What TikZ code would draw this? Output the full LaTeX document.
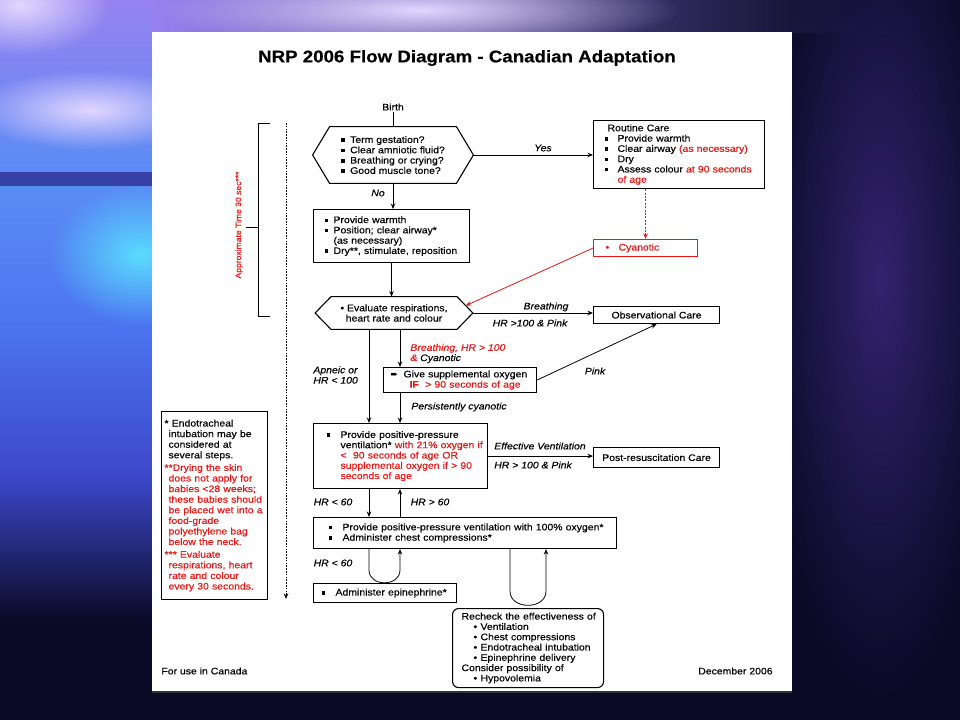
\documentclass[tikz,border=0pt]{standalone}
\usepackage{fontspec}
\setmainfont{Liberation Sans}
\newfontfamily\nrpfont[FakeStretch=1.1,FakeBold=0.3]{Liberation Sans}
\newfontfamily\symfont{DejaVu Sans}
\usetikzlibrary{arrows.meta,calc,fadings}
\tikzfading[name=softglow, inner color=transparent!0, outer color=transparent!100]
\definecolor{nrpred}{RGB}{232,24,24}
\definecolor{slidebg}{RGB}{10,10,38}
\definecolor{skylav}{RGB}{150,130,240}
\definecolor{skyblue}{RGB}{90,140,245}
\definecolor{midblue}{RGB}{75,115,240}
\definecolor{deepblue}{RGB}{60,70,200}
\definecolor{glowcyan}{RGB}{90,220,255}
\definecolor{glowlav}{RGB}{225,215,255}
\definecolor{glowpurple}{RGB}{150,130,240}
\definecolor{glowviolet}{RGB}{50,35,110}
\definecolor{bandblue}{RGB}{55,65,165}
\newcommand\rd[1]{\textcolor{nrpred}{#1}}
\newcommand\sqdot{\rule[1pt]{3.5pt}{3.5pt}}
\newcommand\sqb{\makebox[9pt][l]{\sqdot}}
\newcommand\sqbw{\makebox[13pt][l]{\sqdot}}
\newcommand\rbul{\hspace*{12pt}\makebox[7pt][l]{•}}
\newcommand\hexframe[2]{\draw[line width=1.1pt] ([xshift=#2]#1.north west) -- ([xshift=-#2]#1.north east) -- (#1.east) -- ([xshift=-#2]#1.south east) -- ([xshift=#2]#1.south west) -- (#1.west) -- cycle;}

\begin{document}
\begin{tikzpicture}[x=1pt, y=-1pt, line width=0.8pt, >={Stealth[length=5.5pt,width=4.5pt]},
  every node/.style={font=\nrpfont\fontsize{9.5}{10.3}\selectfont},
  box/.style={draw, line width=1.1pt, anchor=north west, inner ysep=0pt, align=left},
  redbox/.style={box, draw=nrpred, text=nrpred},
  hex/.style={inner sep=0pt, align=left},
  lbl/.style={inner sep=1pt},
  note/.style={lbl, font=\nrpfont\itshape\fontsize{9.5}{10.3}\selectfont}]
\useasboundingbox (0,0) rectangle (960,720);

% slide background
\fill[slidebg] (0,0) rectangle (960,720);
\shade[left color=glowpurple, right color=slidebg] (152,0) rectangle (860,32);
\shade[top color=skylav, bottom color=skyblue] (0,0) rectangle (152,172);
\shade[top color=skyblue, bottom color=midblue] (0,186) rectangle (152,330);
\shade[top color=midblue, bottom color=deepblue] (0,330) rectangle (152,480);
\shade[top color=deepblue, bottom color=slidebg] (0,480) rectangle (152,620);
\fill[glowlav, path fading=softglow] (20,5) ellipse (90 and 50);
\fill[glowlav, path fading=softglow] (420,10) ellipse (260 and 40);
\fill[glowcyan, path fading=softglow] (140,255) ellipse (90 and 70);
\fill[glowlav, path fading=softglow] (90,110) ellipse (120 and 40);
\fill[glowviolet, path fading=softglow] (880,280) ellipse (120 and 420);
\fill[bandblue] (0,172) rectangle (152,186);

% page
\fill[white] (152,32) rectangle (792,692);
\draw[line width=1.5pt, black!80] (152,692) -- (792,692);

\node[font=\nrpfont\bfseries\fontsize{17}{20}\selectfont] (title) at (467,58) {NRP 2006 Flow Diagram - Canadian Adaptation};
\node[lbl] (birth) at (393,107) {Birth};

\node[hex, minimum width=160pt, minimum height=56pt] (hex1) at (393,155) {\sqb Term gestation?\\ \sqb Clear amniotic fluid?\\ \sqb Breathing or crying?\\ \sqb Good muscle tone?};
\hexframe{hex1}{17}

\node[box, minimum width=171pt, minimum height=68pt, inner xsep=11pt, text width=149pt] (routine) at (593,120) {\hspace*{3pt}Routine Care\\ \sqbw Provide warmth\\ \sqbw Clear airway \rd{(as necessary)}\\ \sqbw Dry\\ \sqbw \mbox{Assess colour \rd{at 90 seconds}}\\ \hspace*{13pt}\rd{of age}};
\node[redbox, minimum width=104pt, minimum height=17pt, inner xsep=12pt, text width=80pt] (cyan) at (593,239) {\makebox[13pt][l]{•}Cyanotic};

\node[box, minimum width=156pt, minimum height=53pt, inner xsep=11pt, text width=134pt] (warm) at (313,209) {\sqb Provide warmth\\ \sqb Position; clear airway*\\ \hspace*{9pt}(as necessary)\\ \sqb \mbox{Dry**, stimulate, reposition}};

\node[hex, align=center, minimum width=157pt, minimum height=32pt] (hex2) at (394,313) {• Evaluate respirations,\\heart rate and colour};
\hexframe{hex2}{16}
\coordinate (hex2ne) at ($([xshift=-16]hex2.north east)!0.55!(hex2.east)$);

\node[box, minimum width=126pt, minimum height=17pt, align=center] (obs) at (593,306) {Observational Care};
\node[box, minimum width=153pt, minimum height=25pt, inner xsep=7pt, text width=139pt] (oxy) at (383,367) {\makebox[13pt][l]{\symfont\fontsize{9}{9}\selectfont ➨}Give supplemental oxygen\\ \hspace*{19pt}\rd{\textbf{IF} \ > 90 seconds of age}};

\node[box, minimum width=174pt, minimum height=65pt, inner xsep=13pt, text width=148pt] (ppv) at (313,423) {\makebox[14pt][l]{\sqdot}Provide positive-pressure\\ \hspace*{14pt}\mbox{ventilation* \rd{with 21\% oxygen if}}\\ \hspace*{14pt}\rd{<\ \ 90 seconds of age OR}\\ \hspace*{14pt}\rd{supplemental oxygen if > 90}\\ \hspace*{14pt}\rd{seconds of age}};
\node[box, minimum width=126pt, minimum height=20pt, align=center] (post) at (593,447) {Post-resuscitation Care};

\node[box, minimum width=303pt, minimum height=31pt, inner xsep=15pt, text width=273pt] (cc) at (313,517) {\makebox[14pt][l]{\sqdot}\mbox{Provide positive-pressure ventilation with 100\% oxygen*}\\ \makebox[14pt][l]{\sqdot}Administer chest compressions*};
\node[box, minimum width=143pt, minimum height=19pt, inner xsep=8pt, text width=127pt] (epi) at (313,583) {\makebox[14pt][l]{\sqdot}Administer epinephrine*};
\node[box, rounded corners=6pt, minimum width=151pt, minimum height=79pt, inner xsep=9pt, text width=133pt] (recheck) at (452,608) {\mbox{Recheck the effectiveness of}\\ \rbul Ventilation\\ \rbul Chest compressions\\ \rbul Endotracheal intubation\\ \rbul Epinephrine delivery\\ Consider possibility of\\ \rbul Hypovolemia};

\node[box, minimum width=106pt, minimum height=188pt, inner xsep=3pt, text width=100pt, font=\nrpfont\fontsize{9.5}{10.6}\selectfont] (notes) at (161,411) {* Endotracheal\\ \hspace*{4pt}intubation may be\\ \hspace*{4pt}considered at\\ \hspace*{4pt}several steps.\\[2pt] \rd{**Drying the skin}\\ \hspace*{4pt}\rd{does not apply for}\\ \hspace*{4pt}\rd{babies <28 weeks;}\\ \hspace*{4pt}\rd{these babies should}\\ \hspace*{4pt}\rd{be placed wet into a}\\ \hspace*{4pt}\rd{food-grade}\\ \hspace*{4pt}\rd{polyethylene bag}\\ \hspace*{4pt}\rd{below the neck.}\\[2pt] \rd{*** Evaluate}\\ \hspace*{4pt}\rd{respirations, heart}\\ \hspace*{4pt}\rd{rate and colour}\\ \hspace*{4pt}\rd{every 30 seconds.}};

\node[note] (nolbl) at (378,193) {No};
\node[note] (yeslbl) at (543,148) {Yes};
\node[note] (brlbl) at (546,307) {Breathing};
\node[note] (pk1lbl) at (530,323) {HR >100 \& Pink};
\node[note, anchor=west, align=left] (cyanlbl) at (409,353.5) {\rd{Breathing, HR > 100}\\\rd{\&} Cyanotic};
\node[note, anchor=west, align=left] (apnlbl) at (312,375) {Apneic or\\HR < 100};
\node[note] (pk2lbl) at (595,371) {Pink};
\node[note, anchor=west] (perslbl) at (410,407) {Persistently cyanotic};
\node[note] (efflbl) at (540,446) {Effective Ventilation};
\node[note] (pk3lbl) at (533,465) {HR > 100 \& Pink};
\node[note] (lt1lbl) at (333,502) {HR < 60};
\node[note] (gtlbl) at (430,502) {HR > 60};
\node[note] (lt2lbl) at (333,563) {HR < 60};
\node[lbl, anchor=west] (usecan) at (160,671) {For use in Canada};
\node[lbl, anchor=east] (decdate) at (774,671) {December 2006};
\node[lbl, rotate=90, text=nrpred, font=\nrpfont\fontsize{7.8}{9}\selectfont] (timelbl) at (239,225) {Approximate Time 30 sec***};

\coordinate (c1) at (369,0);
\coordinate (c2) at (400,0);
\coordinate (c3) at (510,0);
\coordinate (c4) at (546,0);

\draw (birth.south) -- (hex1.north);
\draw[->] (hex1.south) -- (hex1.south |- warm.north);
\draw[->] (hex1.east) -- (hex1.east -| routine.west);
\draw[->, nrpred, line width=1pt, dash pattern=on 2pt off 1.4pt] (cyan.north |- routine.south) -- (cyan.north);
\draw[->, nrpred] (cyan.west) -- (hex2ne);
\draw[->] (warm.south) -- (warm.south |- hex2.north);
\draw[->] (hex2.east) -- (hex2.east -| obs.west);
\draw[->] (c1 |- hex2.south) -- (c1 |- ppv.north);
\draw[->] (c2 |- hex2.south) -- (c2 |- oxy.north);
\draw[->] (oxy.east) -- (obs.south);
\draw[->] (c2 |- oxy.south) -- (c2 |- ppv.north);
\draw[->] (ppv.east) -- (ppv.east -| post.west);
\draw[->] (c1 |- ppv.south) -- (c1 |- cc.north);
\draw[->] (c2 |- cc.north) -- (c2 |- ppv.south);
\draw[->] (c1 |- cc.south) -- ++(0,21) to[out=-90, in=-90, looseness=1.4] ++(31,0) -- (c2 |- cc.south);
\draw[->] (c3 |- cc.south) -- ++(0,42) to[out=-90, in=-90, looseness=1.35] ++(36,0) -- (c4 |- cc.south);

% time scale
\draw[line width=1pt] (270,123) -- (258,123) -- (258,316) -- (270,316);
\draw[line width=1pt] (246,227) -- (258,227);
\draw[->, line width=1pt, dash pattern=on 1.6pt off 1.2pt] (286,123) -- (286,599);
\end{tikzpicture}
\end{document}
